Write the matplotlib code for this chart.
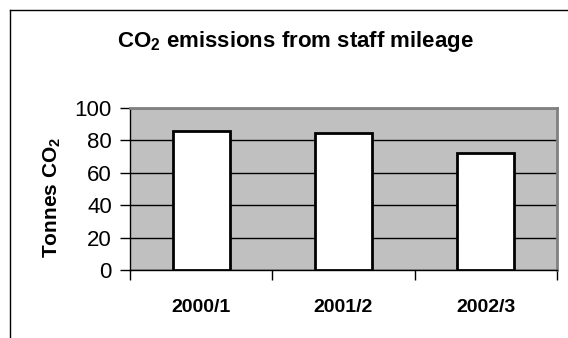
import numpy as np
import matplotlib
matplotlib.use("Agg")
import matplotlib.pyplot as plt
from matplotlib.lines import Line2D

plt.rcParams['font.family'] = ['Liberation Sans', 'DejaVu Sans']
plt.rcParams['mathtext.fontset'] = 'custom'
plt.rcParams['mathtext.rm'] = 'Liberation Sans'
plt.rcParams['mathtext.bf'] = 'Liberation Sans:bold'

# data
years = ["2000/1", "2001/2", "2002/3"]
tonnes = [86, 84.3, 72]
y_ticks = [0, 20, 40, 60, 80, 100]

fig = plt.figure(figsize=(5.68, 3.38), dpi=100)
ax = fig.add_axes([130/568, 68/338, 427/568, 162/338])
ax.set_facecolor("#c0c0c0")

x = np.arange(len(years))
ax.bar(x, tonnes, width=0.40, color="white", edgecolor="black", linewidth=2, zorder=3)

ax.set_xlim(-0.5, len(years) - 0.5)
ax.set_ylim(0, 100)
ax.set_yticks(y_ticks)
ax.yaxis.grid(True, color="black", linewidth=1)
ax.set_axisbelow(True)

ax.set_xticks(x)
ax.set_xticklabels(years, fontweight="bold", fontsize=14)
ax.set_xticks(np.arange(len(years) + 1) - 0.5, minor=True)
ax.tick_params(axis="x", which="major", length=0, pad=21)
ax.tick_params(axis="x", which="minor", length=7, width=1, color="black", direction="out")
ax.tick_params(axis="y", length=7, width=1, labelsize=16, pad=6)

for s in ["top", "right"]:
    ax.spines[s].set_color("#808080")
    ax.spines[s].set_linewidth(2)
ax.spines["left"].set_linewidth(1)
ax.spines["bottom"].set_linewidth(1)

fig.text(52/568, 1 - 197/338, r"Tonnes CO$_\mathbf{2}$", rotation=90,
         ha="center", va="center", fontweight="bold", fontsize=15)
fig.text(295/568, 1 - 42/338, r"CO$_\mathbf{2}$ emissions from staff mileage",
         ha="center", va="center", fontweight="bold", fontsize=16)

# outer chart frame (top and left edges)
fig.add_artist(Line2D([10/568, 1], [1 - 10/338, 1 - 10/338], color="black", linewidth=1))
fig.add_artist(Line2D([10/568, 10/568], [0, 1 - 10/338], color="black", linewidth=1))

fig.savefig("out.png", dpi=100)
